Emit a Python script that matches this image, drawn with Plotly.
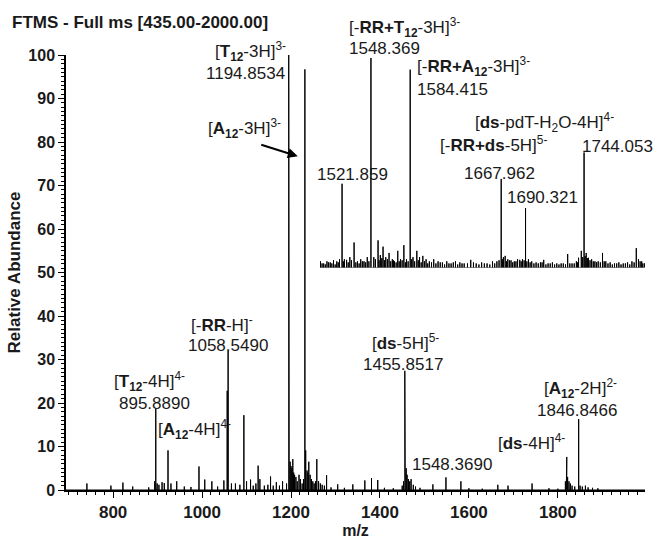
import plotly.graph_objects as go

# ---------------- data ----------------
main_mz = [741, 795, 822, 844, 880, 893.5, 895.889, 899, 903, 910, 915, 923.4, 930, 943, 960, 975,
           993, 1006, 1022, 1035, 1049, 1056.5, 1058.549, 1066, 1075, 1085, 1094.0, 1100, 1109, 1115,
           1121, 1126, 1130, 1140, 1148, 1154, 1160, 1167, 1174, 1181, 1190, 1194.853, 1196, 1198,
           1200, 1202, 1204, 1206, 1208, 1211, 1214, 1218, 1221, 1225, 1228, 1231.2, 1233, 1236, 1238,
           1240, 1243, 1246, 1249, 1252, 1255, 1258, 1262, 1266, 1270, 1275, 1280, 1290, 1305, 1320,
           1339, 1366, 1381, 1395, 1410, 1430, 1450, 1453, 1455.852, 1457, 1459, 1461, 1464, 1467,
           1470, 1475, 1480, 1490, 1519, 1548.369, 1582, 1600, 1630, 1665, 1688, 1742, 1780, 1800,
           1817, 1819, 1820.1, 1822, 1825, 1828, 1832, 1838, 1846.847, 1850, 1855, 1862, 1868, 1878, 1890]
main_int = [1.5, 1.0, 1.7, 0.8, 0.6, 2.0, 18.7, 1.5, 1.2, 1.8, 1.6, 9.1, 1.5, 2.0, 0.8, 0.7,
            5.4, 2.4, 2.0, 0.8, 2.2, 22.8, 32.0, 1.5, 1.5, 1.2, 17.2, 2.0, 2.4, 1.0,
            1.5, 5.6, 2.5, 1.0, 1.2, 3.1, 1.0, 1.8, 1.0, 2.0, 1.5, 100.0, 6.0, 6.5,
            5.5, 5.0, 7.1, 4.0, 3.5, 3.0, 2.0, 3.5, 2.5, 1.5, 2.5, 96.7, 9.1, 4.5, 4.0,
            6.5, 3.5, 2.5, 2.0, 1.5, 2.0, 7.1, 2.0, 1.5, 1.2, 1.0, 3.4, 0.6, 1.3, 0.5,
            1.3, 2.2, 2.7, 2.3, 0.5, 0.4, 1.0, 2.0, 27.4, 8.0, 5.0, 3.5, 2.5, 2.0,
            2.5, 1.2, 0.8, 0.5, 1.3, 2.9, 2.0, 0.4, 0.3, 1.2, 1.0, 1.5, 0.4, 0.3,
            2.0, 4.0, 7.6, 3.0, 2.0, 1.5, 1.0, 0.8, 16.3, 1.0, 0.8, 1.0, 0.6, 0.5, 0.4]

inset_mz = [1502, 1505, 1508, 1511, 1514, 1517, 1519.5, 1521.859, 1524, 1526, 1529, 1532.9, 1536,
            1539, 1542, 1545, 1548.369, 1551, 1554.9, 1557, 1559.5, 1562, 1565, 1568, 1570, 1573,
            1575.5, 1578.6, 1581, 1584.415, 1587, 1590.5, 1593, 1596, 1599, 1602, 1606, 1610, 1614,
            1618, 1622, 1626, 1630, 1634, 1640, 1645, 1650, 1655, 1660, 1664, 1667.962, 1670,
            1671.6, 1674, 1677, 1680, 1683, 1685, 1687.5, 1690.321, 1693, 1696, 1700, 1704, 1707,
            1711, 1715, 1719, 1723, 1729, 1733, 1737, 1739, 1741.5, 1744.053, 1746, 1748, 1751,
            1754, 1757, 1761, 1764, 1768, 1772, 1776, 1780, 1784, 1788, 1792, 1794, 1797, 1799.5]
inset_int = [3, 2, 3, 2.5, 3.5, 3, 4, 40, 4, 3.7, 5, 12, 3,
             4, 3, 5, 100, 5, 13, 6, 10, 5, 7, 4, 3, 8,
             4, 10.7, 4, 94.4, 5, 8, 5, 5.6, 4, 3, 4, 3, 2.5,
             3, 2, 3, 2.5, 2, 3.7, 2, 2.5, 2, 3, 3, 42.3, 5,
             5.6, 4, 3.5, 3, 4, 3.7, 4, 28.4, 4, 3, 2.5, 2.5, 3.7,
             2, 2.5, 2, 2, 6.5, 2, 3, 4.7, 8, 54.9, 7, 4.7, 4,
             3, 3, 7, 3, 2.5, 2, 2.5, 2, 2.5, 3, 9.3, 4, 3, 2]
# small baseline noise in the inset
inset_noise_mz = [1503.5, 1506.5, 1509.5, 1512.5, 1515.5, 1518.3, 1523, 1527.5, 1530.5, 1534.5,
                  1537.5, 1540.5, 1543.5, 1546.5, 1552.5, 1555.8, 1558.3, 1560.8, 1563.5, 1566.5,
                  1569, 1571.5, 1574.3, 1577, 1580, 1582.5, 1585.8, 1588.5, 1591.8, 1594.5, 1597.5,
                  1600.5, 1604, 1608, 1612, 1616, 1620, 1624, 1628, 1632, 1637, 1642.5, 1647.5,
                  1652.5, 1657.5, 1662, 1666, 1669, 1672.8, 1675.5, 1678.5, 1681.5, 1686.3, 1689,
                  1691.5, 1694.5, 1698, 1702, 1705.5, 1709, 1713, 1717, 1721, 1725, 1727, 1731,
                  1735, 1738, 1742.8, 1745, 1747, 1749.5, 1752.5, 1755.5, 1759, 1762.5, 1766,
                  1770, 1774, 1778, 1782, 1786, 1790, 1795.5, 1798]
inset_noise_int = [2, 1.5, 2.5, 2, 1.5, 2.5, 3, 2.5, 3.5, 2.5,
                   2, 3, 2.5, 3, 4, 3.5, 4.5, 3.5, 4, 3,
                   3.5, 2.5, 3, 3.5, 2.5, 3, 4, 3, 3.5, 2.5, 3,
                   2, 2.5, 2, 2.5, 1.5, 2, 2.5, 1.5, 2, 2, 2.5, 1.5,
                   2, 1.5, 2, 3.5, 4, 3, 3.5, 2.5, 3, 3, 3.5,
                   3, 2.5, 2, 2, 2.5, 1.5, 2, 1.5, 1.5, 2, 1.5, 2,
                   2, 2.5, 5, 5.5, 4.5, 3.5, 3, 2.5, 2.5, 3, 2,
                   1.5, 2, 1.5, 2, 1.5, 2.5, 3, 2]

x_ticks = [800, 1000, 1200, 1400, 1600, 1800]
y_ticks = [0, 10, 20, 30, 40, 50, 60, 70, 80, 90, 100]


def sticks(mz, inten, start, end):
    xs, ys = [start], [0]
    for m, i in sorted(zip(mz, inten)):
        xs += [m, m, m]
        ys += [0, i, 0]
    xs.append(end)
    ys.append(0)
    return xs, ys


X_MAIN = [694, 1996]
X_INSET = [1501.6, 1800]

fig = go.Figure()
mx, my = sticks(main_mz, main_int, X_MAIN[0], X_MAIN[1])
fig.add_trace(go.Scatter(x=mx, y=my, mode='lines', line=dict(color='black', width=1),
                         hoverinfo='skip', showlegend=False))
ix, iy = sticks(inset_mz + inset_noise_mz, inset_int + inset_noise_int, X_INSET[0], X_INSET[1])
fig.add_trace(go.Scatter(x=ix, y=iy, mode='lines', line=dict(color='black', width=1),
                         xaxis='x2', yaxis='y2', hoverinfo='skip', showlegend=False))

FONT = 'Liberation Sans, Arial, sans-serif'
TOP, BOT = 55, 501


def py(ypx):
    return (BOT - ypx) / (BOT - TOP)


lab_font = dict(family=FONT, size=17, color='#1a1a1a')
ann = []


def add(text, x, ypx, xref='x', xanchor='center'):
    ann.append(dict(text=text, x=x, y=py(ypx), xref=xref, yref='paper', xanchor=xanchor,
                    yanchor='middle', showarrow=False, font=lab_font))


# main labels
add('[<b>T<sub>12</sub></b>-3H]<sup>3-</sup>', 1193, 51, xanchor='right')
add('1194.8534', 1190, 74, xanchor='right')
add('[<b>A<sub>12</sub></b>-3H]<sup>3-</sup>', 1096, 130)
add('[-<b>RR</b>-H]<sup>-</sup>', 1044, 331)
add('1058.5490', 1058, 353)
add('[<b>T<sub>12</sub></b>-4H]<sup>4-</sup>', 882.5, 390)
add('895.8890', 894, 412)
add('[<b>A<sub>12</sub></b>-4H]<sup>4-</sup>', 982, 439)
add('[<b>ds</b>-5H]<sup>5-</sup>', 1458, 349)
add('1455.8517', 1451.6, 372)
add('1548.3690', 1561.5, 475)
add('[<b>A<sub>12</sub></b>-2H]<sup>2-</sup>', 1851.4, 397)
add('1846.8466', 1842.4, 420)
add('[<b>ds</b>-4H]<sup>4-</sup>', 1741, 452)
# inset labels
add('[-<b>RR+T<sub>12</sub></b>-3H]<sup>3-</sup>', 1526.5, 27, 'x2', 'left')
add('1548.369', 1526.5, 48, 'x2', 'left')
add('[-<b>RR+A<sub>12</sub></b>-3H]<sup>3-</sup>', 1588.9, 67, 'x2', 'left')
add('1584.415', 1588.9, 90, 'x2', 'left')
add('[<b>ds</b>-pdT-H<sub>2</sub>O-4H]<sup>4-</sup>', 1642.1, 124, 'x2', 'left')
add('1744.053', 1740.4, 149, 'x2', 'left')
add('[-<b>RR+ds</b>-5H]<sup>5-</sup>', 1610.0, 146, 'x2', 'left')
add('1667.962', 1632.0, 176, 'x2', 'left')
add('1521.859', 1531.0, 178, 'x2', 'center')
add('1690.321', 1671.5, 201, 'x2', 'left')

# arrow pointing to the [A12-3H]3- peak
ann.append(dict(text='', x=1215.2, y=76.7, xref='x', yref='y', showarrow=True,
                ax=-38, ay=-12, arrowhead=2, arrowsize=1, arrowwidth=2, arrowcolor='black',
                standoff=0))

fig.update_layout(
    width=654, height=545,
    margin=dict(l=66, r=9, t=TOP, b=545 - BOT),
    paper_bgcolor='white', plot_bgcolor='white',
    font=dict(family=FONT, color='black'),
    title=dict(text='<b>FTMS - Full ms [435.00-2000.00]</b>', x=12 / 654, xanchor='left',
               xref='container', yref='container', y=1 - 22 / 545, yanchor='middle',
               font=dict(family=FONT, size=17, color='#1a1a1a')),
    annotations=ann,
    xaxis=dict(range=X_MAIN, tickvals=x_ticks, ticktext=[str(v) for v in x_ticks],
               showline=True, linecolor='black', linewidth=1.5, ticks='outside', ticklen=6,
               tickwidth=1.2, tickcolor='black', showgrid=False, zeroline=False,
               tickfont=dict(family=FONT, size=17, weight='bold', color='#1a1a1a'),
               minor=dict(dtick=20, tick0=0, ticks='outside', ticklen=3, tickcolor='black',
                          tickwidth=1, showgrid=False),
               title=dict(text='<b>m/z</b>', standoff=3,
                          font=dict(family=FONT, size=16, color='#1a1a1a'))),
    yaxis=dict(range=[0, 100], tickvals=y_ticks, ticktext=[str(v) for v in y_ticks],
               showline=True, linecolor='black', linewidth=1.5, ticks='outside', ticklen=6,
               tickwidth=1.2, tickcolor='black', showgrid=False, zeroline=False,
               tickfont=dict(family=FONT, size=16, weight='bold', color='#1a1a1a'),
               minor=dict(dtick=1, tick0=0, ticks='outside', ticklen=3, tickcolor='black',
                          tickwidth=1, showgrid=False),
               title=dict(text='<b>Relative Abundance</b>', standoff=3,
                          font=dict(family=FONT, size=17, color='#1a1a1a'))),
    xaxis2=dict(domain=[(320 - 66) / 579, 1.0], range=X_INSET, anchor='y2', visible=False),
    yaxis2=dict(domain=[py(273), py(58)], range=[0, 100], anchor='x2', visible=False),
)

fig.write_html('out.html')
